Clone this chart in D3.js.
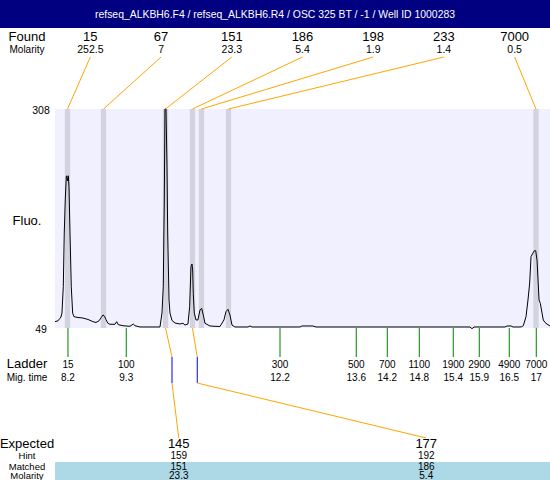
<!DOCTYPE html>
<html><head><meta charset="utf-8">
<script src="https://cdn.jsdelivr.net/npm/d3@7"></script>
<style>body{margin:0;background:#fff} svg{display:block} text{font-family:"Liberation Sans",Arial,sans-serif}</style>
</head><body>
<script>
const title = "refseq_ALKBH6.F4 / refseq_ALKBH6.R4 / OSC 325 BT / -1 / Well ID 1000283";
const yTicks = [49, 308];
const foundSize = [15, 67, 151, 186, 198, 233, 7000];
const foundMolarity = [252.5, 7, 23.3, 5.4, 1.9, 1.4, 0.5];
const foundTime = [8.191, 8.868, 10.034, 10.541, 10.710, 11.218, 17.000];
const ladderSize = [15, 100, 300, 500, 700, 1100, 1900, 2900, 4900, 7000];
const ladderTime = [8.2, 9.296, 12.187, 13.621, 14.204, 14.806, 15.445, 15.934, 16.498, 17.006];
const expectedSize = [145, 177];
const expectedHint = [159, 192];
const expectedTime = [10.156, 10.631];
const matchedSize = [151, 186];
const matchedMolarity = [23.3, 5.4];
const matchedTime = [10.034, 10.541];
const traceTime = [7.956,8.012,8.050,8.068,8.087,8.112,8.130,8.149,8.168,8.176,8.191,8.206,8.219,8.238,8.262,8.288,8.313,8.388,8.482,8.576,8.670,8.727,8.783,8.821,8.858,8.886,8.915,8.952,8.990,9.084,9.116,9.146,9.234,9.291,9.366,9.428,9.460,9.554,9.930,9.968,9.992,10.011,10.024,10.043,10.062,10.075,10.100,10.118,10.156,10.212,10.306,10.362,10.400,10.456,10.488,10.513,10.532,10.545,10.556,10.575,10.607,10.644,10.682,10.714,10.744,10.776,10.870,10.964,11.058,11.133,11.171,11.208,11.246,11.284,11.340,11.585,11.622,11.660,12.563,12.600,12.807,12.864,15.760,15.797,15.835,16.418,16.456,16.531,16.569,16.700,16.732,16.762,16.813,16.850,16.882,16.907,16.944,16.969,16.995,17.020,17.039,17.058,17.082,17.114,17.138,17.170,17.207,17.264];
const traceFluo = [56.5,57.5,60.5,62,66.7,97.8,161.3,200.4,228,229,223,229,216,161.3,97.8,66.7,62.4,61.4,60.8,59.1,56.5,55.5,57.5,61,64.4,63,59,54.5,53.4,53.4,56.5,52.9,51.7,51.4,51,53.7,51.7,50.2,50.2,66.7,97.8,200.4,308,308,239.8,161.3,82.1,66.7,57.9,54.9,53.7,54.6,52.5,53.7,74.2,121.5,124.7,117.6,90,66.7,58.5,58.5,70.3,72.3,64.4,54.6,51.4,51,50.8,58.5,68.3,71.1,64.4,52.5,50.2,50.2,51.4,50.2,50.2,51.4,51.4,50.2,50.2,48.2,50.2,50.2,51.4,51.4,50.2,50.2,50.5,51.7,62.4,82.1,102.2,133.3,137.7,140.4,140.4,129.4,105.8,82.1,78.2,66.7,58.5,55.5,53.7,51.4];

const W = 550, H = 480;
const P = {l: 55, r: 550, t: 109, b: 328};
const svg = d3.select("body").append("svg").attr("width", W).attr("height", H);
const x = d3.scaleLinear().domain(d3.extent(traceTime)).range([P.l, P.r]);
const y = d3.scaleLinear().domain(yTicks).range([P.b, P.t]);
const colF = d3.scaleBand().domain(d3.range(foundSize.length)).range([P.l, P.r]);
const colE = d3.scaleBand().domain(d3.range(expectedSize.length)).range([P.l, P.r]);
const fmt = d3.format(".1~f");
const ORANGE = "#FFA500", GREEN = "#007F00";
const LX = 27;

function txt(g, xx, yy, s, size, anchor, fill) {
  return g.append("text").attr("x", xx).attr("y", yy).attr("font-size", size)
    .attr("text-anchor", anchor || "middle").attr("fill", fill || "#000").text(s);
}

// title bar
svg.append("rect").attr("x", 0).attr("y", 0).attr("width", W).attr("height", 28).attr("fill", "#000080");
txt(svg, W / 2, 18, title, 11, "middle", "#fff").attr("textLength", 360).attr("lengthAdjust", "spacingAndGlyphs");

// found rows
txt(svg, LX, 41, "Found", 13);
txt(svg, LX, 52.5, "Molarity", 10);
svg.selectAll(".fs").data(foundSize).join("text").attr("class", "fs")
  .attr("x", (d, i) => colF(i) + colF.bandwidth() / 2).attr("y", 41)
  .attr("font-size", 13).attr("text-anchor", "middle").text(d => d);
svg.selectAll(".fm").data(foundMolarity).join("text").attr("class", "fm")
  .attr("x", (d, i) => colF(i) + colF.bandwidth() / 2).attr("y", 52.5)
  .attr("font-size", 10.5).attr("text-anchor", "middle").text(d => d);

// plot background
svg.append("rect").attr("x", P.l).attr("y", P.t).attr("width", P.r - P.l).attr("height", P.b - P.t).attr("fill", "#F0F0FF");
// peak bands
const half = 0.05;
svg.selectAll(".band").data(foundTime).join("rect").attr("class", "band")
  .attr("x", d => x(d - half)).attr("width", d => x(d + half) - x(d - half))
  .attr("y", P.t).attr("height", P.b - P.t).attr("fill", "#D3D3E0");

// trace
const line = d3.line().x(d => x(d[0])).y(d => y(d[1]));
svg.append("path").datum(traceTime.map((t, i) => [t, traceFluo[i]]))
  .attr("d", line).attr("fill", "none").attr("stroke", "#000").attr("stroke-width", 1);

// top connectors
svg.selectAll(".tc").data(foundTime).join("line").attr("class", "tc")
  .attr("x1", (d, i) => colF(i) + colF.bandwidth() / 2).attr("y1", 57)
  .attr("x2", d => x(d)).attr("y2", P.t)
  .attr("stroke", ORANGE).attr("stroke-width", 1);

// y labels
yTicks.forEach(v => txt(svg, 41, y(v) + 5, v, 10.5));
txt(svg, LX, 225, "Fluo.", 13);

// ladder
svg.selectAll(".lt").data(ladderTime).join("line").attr("class", "lt")
  .attr("x1", d => x(d)).attr("x2", d => x(d)).attr("y1", P.b).attr("y2", 357)
  .attr("stroke", GREEN).attr("stroke-width", 1);
txt(svg, LX, 367.5, "Ladder", 13);
txt(svg, LX, 381, "Mig. time", 10);
svg.selectAll(".ls").data(ladderSize).join("text").attr("class", "ls")
  .attr("x", (d, i) => x(ladderTime[i])).attr("y", 367.5)
  .attr("font-size", 10).attr("text-anchor", "middle").text(d => d);
svg.selectAll(".lm").data(ladderTime).join("text").attr("class", "lm")
  .attr("x", d => x(d)).attr("y", 381)
  .attr("font-size", 10).attr("text-anchor", "middle").text(d => fmt(d));

// matched connectors
matchedTime.forEach((mt, i) => {
  const ex = x(expectedTime[i]);
  const cx = colE(i) + colE.bandwidth() / 2;
  svg.append("line").attr("x1", x(mt)).attr("y1", P.b).attr("x2", ex).attr("y2", 357).attr("stroke", ORANGE);
  svg.append("line").attr("x1", ex).attr("y1", 357).attr("x2", ex).attr("y2", 383).attr("stroke", "#0000FF");
  svg.append("line").attr("x1", ex).attr("y1", 383).attr("x2", cx).attr("y2", 438).attr("stroke", ORANGE);
});

// bottom table
svg.append("rect").attr("x", P.l).attr("y", 462).attr("width", P.r - P.l).attr("height", 18).attr("fill", "#ADD8E6");
txt(svg, LX, 448, "Expected", 13);
txt(svg, LX, 459, "Hint", 9.5);
txt(svg, LX, 469.5, "Matched", 9.5);
txt(svg, LX, 479, "Molarity", 9.5);
expectedSize.forEach((v, i) => {
  const cx = colE(i) + colE.bandwidth() / 2;
  txt(svg, cx, 448, v, 13);
  txt(svg, cx, 459, expectedHint[i], 10);
  txt(svg, cx, 469.5, matchedSize[i], 10);
  txt(svg, cx, 479, matchedMolarity[i], 10);
});
</script>
</body></html>
